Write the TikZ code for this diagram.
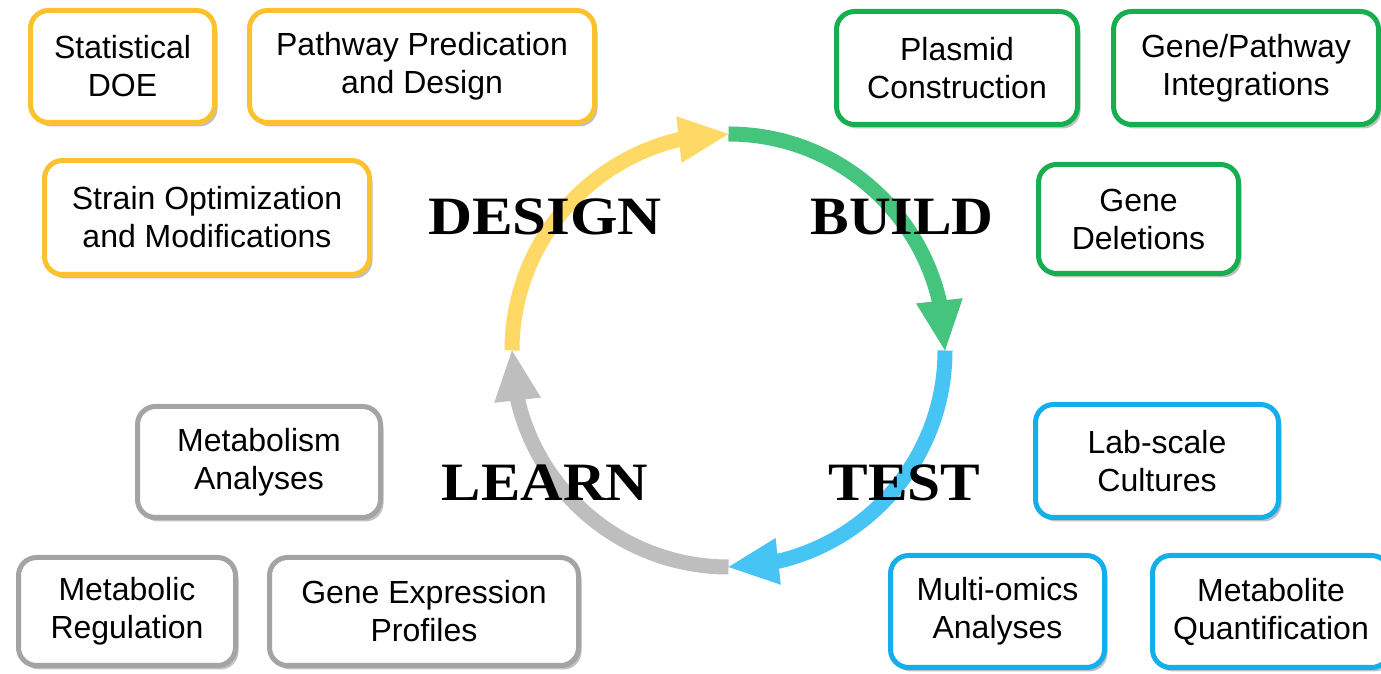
\documentclass[tikz,border=0pt]{standalone}
\usepackage{fontspec}
\setmainfont{Liberation Sans}
\newfontfamily\phasefont{Liberation Serif}
\usetikzlibrary{arrows.meta, bending, positioning, shadows}

\definecolor{dline}{HTML}{FAC22F}
\definecolor{bline}{HTML}{17AE4F}
\definecolor{tline}{HTML}{14AEEB}
\definecolor{lline}{HTML}{A4A4A4}
\definecolor{darrow}{HTML}{FFD966}
\definecolor{barrow}{HTML}{44C47C}
\definecolor{tarrow}{HTML}{46C4F3}
\definecolor{larrow}{HTML}{BEBEBE}

\begin{document}
\begin{tikzpicture}[x=1pt, y=1pt,
    box/.style={draw, fill=white, line width=5pt, rounded corners=18pt,
      align=center, font=\fontsize{32}{38}\selectfont,
      drop shadow={shadow xshift=3pt, shadow yshift=-4pt, opacity=.35, fill=black!70}},
    dbox/.style={box, draw=dline},
    bbox/.style={box, draw=bline},
    tbox/.style={box, draw=tline},
    lbox/.style={box, draw=lline},
    cycle arc/.style={line width=15pt,
      -{Triangle[length=50pt, width=47pt, line width=0pt]}},
    phase/.style={anchor=base, font=\phasefont\bfseries\fontsize{54}{60}\selectfont}]

  \useasboundingbox (0,0) rectangle (1381,674);

  % Cycle
  \coordinate (N) at (728.5,540);
  \coordinate (E) at (945,323.5);
  \coordinate (S) at (728.5,107);
  \coordinate (W) at (512,323.5);

  \draw[cycle arc, darrow] (W) arc[start angle=180, end angle=90, radius=216.5];
  \draw[cycle arc, barrow] (N) arc[start angle=90, end angle=0, radius=216.5];
  \draw[cycle arc, tarrow] (E) arc[start angle=0, end angle=-90, radius=216.5];
  \draw[cycle arc, larrow] (S) arc[start angle=270, end angle=180, radius=216.5];

  % Phases
  \node[phase] (design) at (545,439) {\scalebox{1.13}[1]{DESIGN}};
  \node[phase] (build) at (902,439) {\scalebox{1.07}[1]{BUILD}};
  \node[phase] (test) at (904.5,173) {\scalebox{1.1}[1]{TEST}};
  \node[phase] (learn) at (545,173) {\scalebox{1.09}[1]{LEARN}};

  % Design
  \node[dbox, minimum width=184pt, minimum height=112pt] (doe) at (122.5,607.5) {Statistical\\DOE};
  \node[dbox, minimum width=345pt, minimum height=112pt] (pathway) [right=30pt of doe] {Pathway Predication\\and Design};
  \node[dbox, minimum width=325pt, minimum height=114pt] (strain) at (207,456.5) {Strain Optimization\\and Modifications};

  % Build
  \node[bbox, minimum width=241pt, minimum height=113pt] (plasmid) at (957,606) {Plasmid\\Construction};
  \node[bbox, minimum width=265pt, minimum height=113pt] (integration) [right=31pt of plasmid] {Gene/Pathway\\Integrations};
  \node[bbox, minimum width=200pt, minimum height=109pt] (deletion) at (1138.5,455) {Gene\\Deletions};

  % Test
  \node[tbox, minimum width=243pt, minimum height=113pt] (culture) at (1157,213) {Lab-scale\\Cultures};
  \node[tbox, minimum width=214pt, minimum height=112pt] (omics) at (997.5,62.5) {Multi-omics\\Analyses};
  \node[tbox, minimum width=237pt, minimum height=112pt] (quant) [right=43pt of omics] {Metabolite\\Quantification};

  % Learn
  \node[lbox, minimum width=243pt, minimum height=111pt] (metabolism) at (259,212) {Metabolism\\Analyses};
  \node[lbox, minimum width=217pt, minimum height=108pt] (regulation) at (127,62.5) {Metabolic\\Regulation};
  \node[lbox, minimum width=309pt, minimum height=108pt] (expression) [right=29pt of regulation] {Gene Expression\\Profiles};

\end{tikzpicture}
\end{document}
